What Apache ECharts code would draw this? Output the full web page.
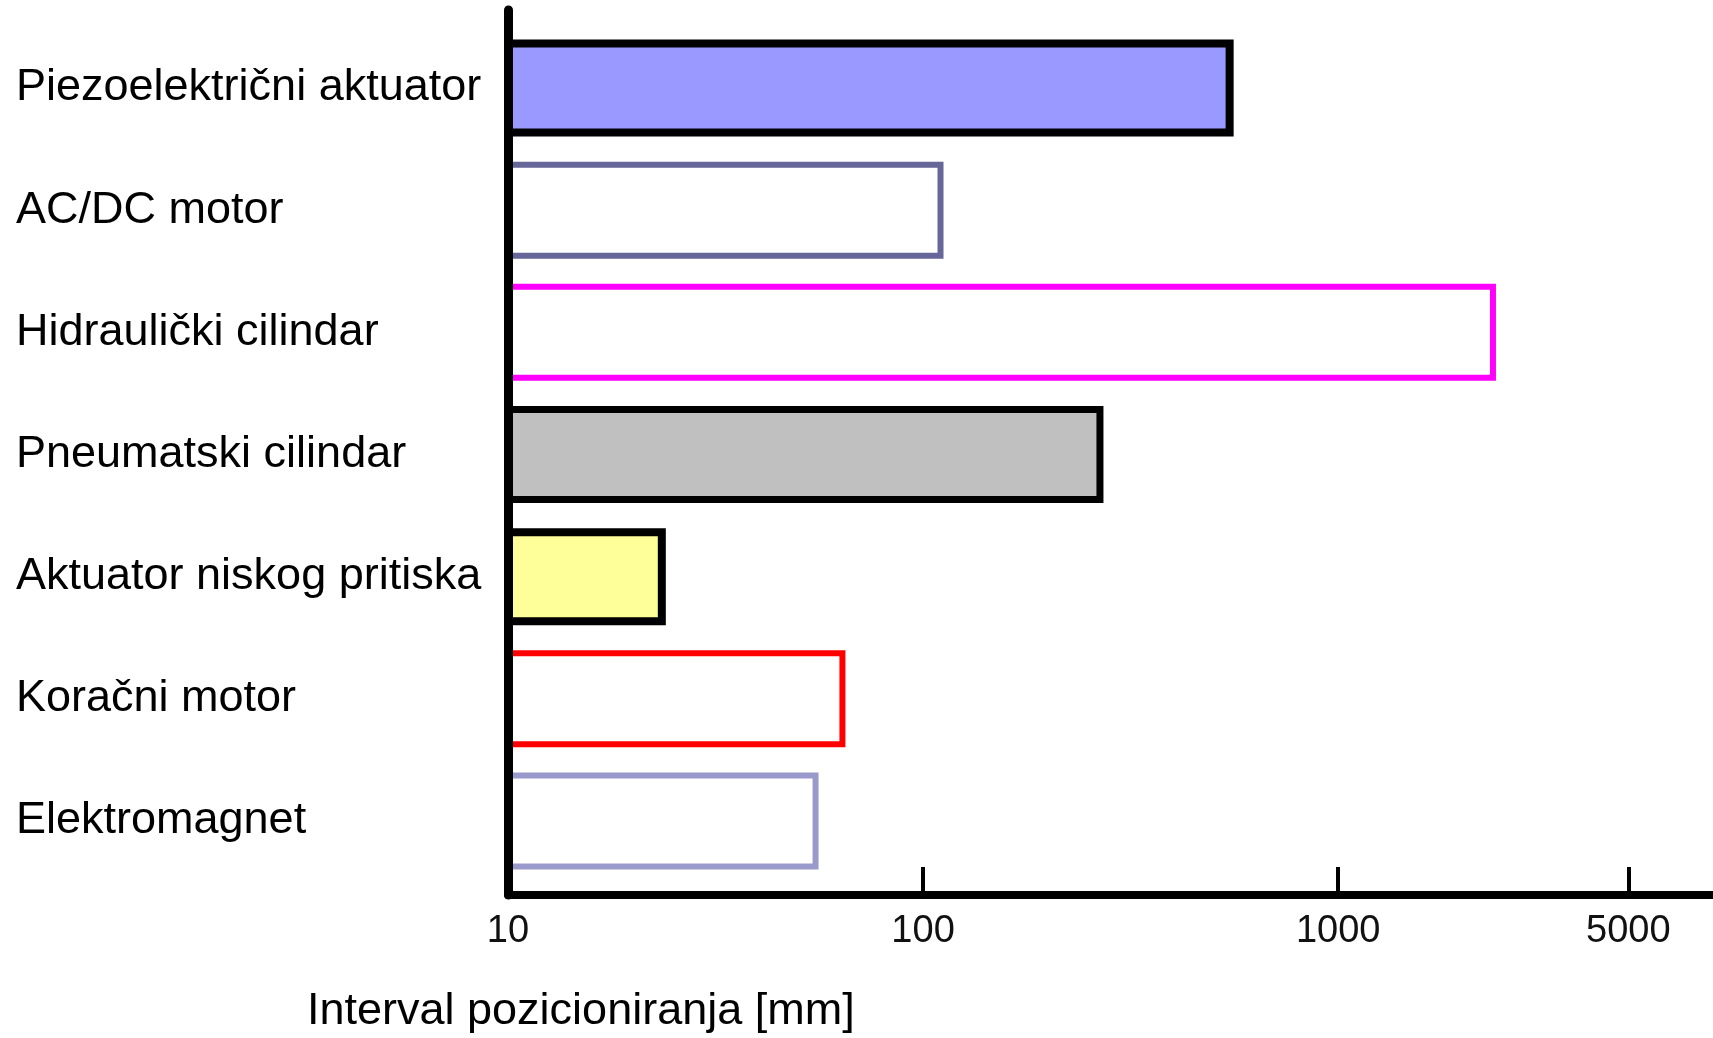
<!DOCTYPE html>
<html>
<head>
<meta charset="utf-8">
<script src="https://cdn.jsdelivr.net/npm/echarts@6/dist/echarts.min.js"></script>
<style>
  html, body { margin: 0; padding: 0; background: #fff; }
  #chart { width: 1713px; height: 1038px; }
</style>
</head>
<body>
<div id="chart"></div>
<script>
const categories = [
  'Piezoelektrični aktuator',
  'AC/DC motor',
  'Hidraulički cilindar',
  'Pneumatski cilindar',
  'Aktuator niskog pritiska',
  'Koračni motor',
  'Elektromagnet'
];
// positioning range in mm (upper end of each bar)
const ranges = [560, 112, 2400, 272, 24, 65, 56];
const tickValues = [10, 100, 1000, 5000];
const axisMin = 10;
const axisMax = 8000;

const fillColors = ['#9999ff', '#ffffff', '#ffffff', '#c0c0c0', '#ffff99', '#ffffff', '#ffffff'];
const borderColors = ['#000000', '#666699', '#ff00ff', '#000000', '#000000', '#ff0000', '#9999cc'];
const borderWidths = [8, 6, 6, 7, 8, 6, 6];

const font = '"Liberation Sans", Arial, sans-serif';

const chart = echarts.init(document.getElementById('chart'));

chart.setOption({
  backgroundColor: '#ffffff',
  animation: false,
  title: {
    text: 'Interval pozicioniranja [mm]',
    left: 307,
    top: 989,
    padding: 0,
    textStyle: { fontFamily: font, fontSize: 45, fontWeight: 'normal', color: '#000' }
  },
  grid: [
    // bars
    { left: 508, right: 0, top: 27, height: 855 },
    // axis lines
    { left: 508, right: 0, top: 10, bottom: 143 }
  ],
  xAxis: [
    {
      gridIndex: 0,
      type: 'log',
      min: axisMin,
      max: axisMax,
      show: false
    },
    {
      gridIndex: 1,
      type: 'log',
      min: axisMin,
      max: axisMax,
      z: 10,
      axisLine: { onZero: false, lineStyle: { color: '#000', width: 8 } },
      axisTick: {
        inside: true,
        length: 28,
        customValues: tickValues.slice(1),
        lineStyle: { color: '#000', width: 4 }
      },
      axisLabel: {
        customValues: tickValues,
        formatter: v => String(Math.round(v)),
        margin: 18,
        fontFamily: font,
        fontSize: 38,
        color: '#111'
      },
      splitLine: { show: false },
      minorTick: { show: false }
    }
  ],
  yAxis: [
    {
      gridIndex: 0,
      type: 'category',
      inverse: true,
      data: categories,
      axisLine: { show: false },
      axisTick: { show: false },
      axisLabel: {
        align: 'left',
        margin: 492,
        padding: [6, 0, 0, 0],
        fontFamily: font,
        fontSize: 45,
        color: '#000'
      }
    },
    {
      gridIndex: 1,
      type: 'value',
      min: 0,
      max: 1,
      z: 10,
      axisLine: { show: true, lineStyle: { color: '#000', width: 9 } },
      axisTick: { show: false },
      axisLabel: { show: false },
      splitLine: { show: false }
    }
  ],
  series: [
    {
      type: 'bar',
      xAxisIndex: 0,
      yAxisIndex: 0,
      barWidth: 97,
      clip: true,
      data: ranges.map((v, i) => ({
        value: v,
        itemStyle: {
          color: fillColors[i],
          borderColor: borderColors[i],
          borderWidth: borderWidths[i]
        }
      }))
    }
  ]
});
</script>
</body>
</html>
